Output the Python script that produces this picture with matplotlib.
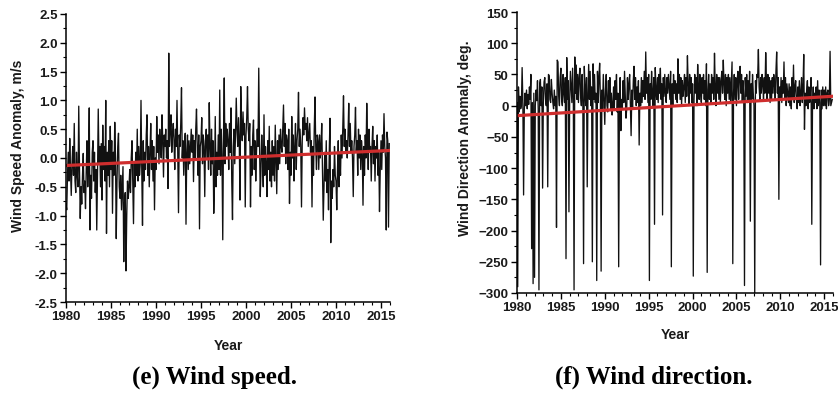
import numpy as np
import matplotlib
matplotlib.use("Agg")
import matplotlib.pyplot as plt
from matplotlib.ticker import MultipleLocator, FormatStrFormatter

plt.rcParams['font.family'] = ['Liberation Sans', 'DejaVu Sans']

start_year = 1980
end_year = 2016

# Monthly wind speed anomaly (m/s), one row per year 1980..2015
speed_rows = [
    [-0.8, -0.9, -0.3, 0.1, -0.4, 0.34, -0.2, -0.65, -0.1, 0.2, -0.3, 0.6],
    [-0.4, -0.6, 0.1, -0.3, -0.5, 0.9, -0.2, -1.05, -0.5, -0.8, -0.3, 0.08],
    [-0.6, -0.4, -0.88, -0.2, 0.3, -0.5, -0.1, 0.87, -1.25, -0.3, -0.7, 0.1],
    [0.3, -0.4, 0.1, -0.6, -0.2, -1.25, -0.3, 0.85, -0.1, 0.2, -0.5, 0.25],
    [-0.73, 0.57, -0.2, 0.2, -0.4, 1.0, -1.31, 0.1, -0.3, 0.3, -0.5, 0.55],
    [-0.2, 0.3, -0.96, 0.1, -0.3, 0.62, 0.0, -1.4, -0.4, 0.2, 0.43, -0.5],
    [-0.7, -0.3, -0.9, -0.5, -0.15, -1.8, -0.8, -0.6, -1.96, -1.0, -0.4, -0.7],
    [-0.5, -0.2, -0.6, 0.0, 0.3, -0.4, -1.14, -0.1, -0.5, 0.1, -0.3, 0.5],
    [-0.4, 0.2, -0.3, -0.1, 1.0, -0.2, -1.17, 0.3, -0.4, 0.1, -0.2, 0.4],
    [0.75, -0.3, 0.2, -0.5, 0.1, 0.6, -0.2, 0.3, -0.4, 0.2, -0.9, 0.0],
    [-0.2, 0.72, 0.1, 0.4, -0.1, 0.5, 0.2, 0.0, 0.75, 0.3, -0.33, 0.4],
    [0.2, 0.5, 0.0, 0.3, -0.53, 1.82, 0.2, 0.5, 0.75, 0.1, 0.4, 0.6],
    [0.3, -0.2, 0.5, 0.2, 1.0, 0.1, -0.95, 0.4, 0.2, 0.6, 1.22, 0.0],
    [0.3, -0.3, 0.2, 0.43, -1.15, 0.1, 0.4, -0.2, 0.3, -0.1, 0.2, 0.5],
    [0.1, 0.4, -0.41, 0.3, 0.0, 0.5, 0.85, 0.2, -0.3, 0.4, -1.23, 0.2],
    [0.3, 0.7, -0.1, 0.4, 0.2, -0.67, 0.3, 0.5, 0.0, 0.4, -0.2, 0.96],
    [0.2, -0.3, 0.5, -0.1, 0.3, -0.96, -0.4, 0.72, -0.5, 0.1, -0.3, 0.4],
    [-0.2, 1.18, -0.3, 0.5, 0.0, -1.42, 0.4, 1.39, -0.1, 0.6, 0.2, 0.5],
    [0.3, -0.2, 0.6, 0.1, 0.87, -0.4, -1.07, 0.2, 0.5, -0.1, 0.4, 1.04],
    [0.5, 0.2, 0.7, 0.3, -0.73, 1.24, 0.6, 0.3, 0.8, 0.4, 0.6, -0.85],
    [0.4, 0.7, 1.24, 0.5, 0.3, 0.6, -0.85, 0.2, -0.3, 0.4, 0.66, -0.2],
    [0.3, -0.4, 0.1, 0.5, 0.2, 1.56, 0.3, -0.67, -0.2, 0.4, 0.0, -0.5],
    [0.75, -0.3, 0.2, -0.1, -0.67, 0.3, -0.2, 0.55, -0.4, 0.1, -0.5, 0.3],
    [-0.3, 0.2, -0.4, 0.57, 0.0, -0.62, 0.3, -0.2, 0.4, -0.1, 0.5, 0.2],
    [0.1, 0.5, 0.92, 0.2, 0.6, -0.1, 0.4, 0.3, -0.2, 0.5, -0.79, 0.1],
    [-0.3, 0.72, 0.0, 0.4, -0.4, 0.2, 0.6, -0.2, 0.3, 0.5, 1.14, 0.2],
    [0.5, 0.2, -0.85, 0.3, 0.7, 0.4, 0.87, 0.5, 0.6, 0.3, 0.7, 0.2],
    [0.4, 0.6, 0.1, 0.3, -0.85, 0.2, -0.3, 0.5, 1.06, 0.2, -0.2, 0.4],
    [0.3, -0.2, 0.4, 0.0, 0.2, 0.6, -0.3, -1.08, -0.5, 0.1, -0.4, 0.3],
    [-0.6, -0.2, -0.9, 0.1, 0.69, -1.47, -0.4, -0.7, -0.2, -0.5, 0.2, -0.3],
    [-0.4, -0.9, -0.2, 0.3, -0.5, 0.1, -0.3, 0.4, 0.0, 0.5, 1.08, 0.2],
    [0.5, 0.1, 0.3, 0.0, 0.4, 0.95, 0.2, 0.6, 0.1, 0.3, 0.0, -0.67],
    [0.2, 0.4, 0.88, 0.1, 0.3, -0.3, 0.5, 0.0, 0.4, -0.2, 0.3, 0.1],
    [-0.82, 0.2, -0.3, 0.4, 0.0, 0.95, 0.3, -0.2, 0.5, 0.1, 0.2, -0.4],
    [0.2, 0.55, -0.1, 0.3, -0.4, 0.2, 0.0, 0.4, -0.3, 0.1, -0.93, -0.2],
    [0.3, -0.2, 0.4, 0.1, 0.77, 0.2, 0.0, -1.25, 0.45, 0.3, -1.2, 0.25],
]

# Monthly wind direction anomaly (deg), one row per year 1980..2015
direction_rows = [
    [5, -290, 30, -10, 15, -5, 0, 61, 8, -143, -5, 20],
    [0, 25, -5, 18, 2, 30, 10, 50, -229, 5, -285, 20],
    [-275, 0, 25, 8, 40, -5, -295, 35, 42, 0, 30, -132],
    [5, 38, 45, 10, 0, 35, -130, 50, 48, 10, 5, 42],
    [20, 5, -5, 25, 0, 15, -195, 73, 70, 15, 0, 45],
    [60, 10, 0, 50, 20, 5, 45, -245, 77, 10, 40, -170],
    [10, 55, 30, 5, 60, 15, -295, 78, 20, 65, 10, 50],
    [5, 45, 60, 15, 0, 50, 10, -253, 63, 25, 0, 45],
    [-130, 20, 66, 10, 55, 0, 30, -250, 67, 10, 50, 5],
    [20, -280, 55, 5, 45, 68, 10, -265, 25, -5, 50, 10],
    [-30, 25, 50, 0, -10, 40, 5, 45, -5, 20, -15, 0],
    [30, -5, 40, 10, 50, -10, 20, -258, 0, 45, -40, 10],
    [-5, 40, 5, 55, 15, -20, -5, 45, 10, 35, 50, 0],
    [-48, 25, -5, 40, 63, 10, 45, 0, 30, 5, 40, -63],
    [20, 0, 45, 5, 40, 15, 55, 10, 86, 20, 45, 5],
    [50, -280, 35, 10, 55, 20, 0, 45, -190, 61, 25, 10],
    [45, 5, 50, 20, 60, 10, 35, -175, 45, 15, 50, 20],
    [5, 45, 20, 50, 30, 10, 55, -258, 35, 0, 50, 20],
    [40, 10, 35, 5, 75, 20, 50, 10, 45, 0, 40, 15],
    [30, 50, 5, 45, 15, 80, 35, 0, 50, 20, 45, 5],
    [35, -273, 10, 50, 20, 45, 0, 66, 30, 10, 50, 20],
    [5, 45, 20, 50, 10, 40, 0, 67, -267, 25, 50, 10],
    [35, 5, 50, 20, 45, 10, 84, 30, 0, 50, 20, 45],
    [10, 45, 5, 40, 55, 20, 73, 35, 10, 50, 0, 45],
    [20, 50, 10, 45, 5, 40, 70, -253, 20, 50, 10, 45],
    [0, 40, 55, 10, 45, 63, 20, 50, 5, 40, 15, -288],
    [45, 15, 50, 5, 40, 10, 55, -185, 35, 10, 50, 20],
    [0, -300, 40, 20, 50, 45, 90, 30, 10, 45, 20, 50],
    [35, 10, 45, 20, 85, 40, 10, 50, 20, 45, 5, 40],
    [10, 45, 20, 50, 35, 10, 55, 86, 20, 45, -150, 30],
    [10, 45, 5, 40, 20, 70, 10, 45, 0, 35, 20, 5],
    [35, 0, 30, -5, 45, 10, 65, 5, 30, 40, 10, -5],
    [30, 5, 40, 0, 20, 45, 5, 30, 82, -38, 20, 0],
    [25, 40, -5, 30, 5, 20, 45, -190, 5, 30, -5, 20],
    [5, 30, -5, 40, 0, 25, 5, -255, 25, -5, 30, 0],
    [25, 0, 30, -5, 20, 25, 0, 10, 87, 0, 5, 10],
]

# Linear trend end values (start, end)
speed_trend = [-0.13, 0.13]
direction_trend = [-16, 15]

speed_ticks = [-2.5, -2.0, -1.5, -1.0, -0.5, 0.0, 0.5, 1.0, 1.5, 2.0, 2.5]
direction_ticks = [-300, -250, -200, -150, -100, -50, 0, 50, 100, 150]
year_ticks = [1980, 1985, 1990, 1995, 2000, 2005, 2010, 2015]

speed = np.array(speed_rows).ravel()
direction = np.array(direction_rows).ravel()
t = start_year + np.arange(len(speed)) / 12.0
trend_x = [start_year, t[-1]]

W, H = 838, 406
fig = plt.figure(figsize=(W / 100, H / 100), dpi=100)

def px_axes(x0, x1, ytop, ybot):
    return fig.add_axes([x0 / W, 1 - ybot / H, (x1 - x0) / W, (ybot - ytop) / H])

ax1 = px_axes(66, 390, 15, 303)
ax2 = px_axes(517, 833, 13, 294)

red = '#cf2e2e'
txt = '#1a1a1a'
for ax, y, tr, ticks, minor, lab, lc, xl in [
    (ax1, speed, speed_trend, speed_ticks, 0.25, 'Wind Speed Anomaly, m/s', (-0.128, 0.545), -0.125),
    (ax2, direction, direction_trend, direction_ticks, 25, 'Wind Direction Anomaly, deg.', (-0.142, 0.555), -0.12),
]:
    ax.plot(t, y, color='#111111', lw=0.95)
    ax.plot(trend_x, tr, color=red, lw=2.3)
    ax.set_xlim(start_year, end_year)
    ax.set_ylim(ticks[0], ticks[-1])
    ax.set_yticks(ticks)
    ax.set_xticks(year_ticks)
    ax.yaxis.set_minor_locator(MultipleLocator(minor))
    ax.xaxis.set_minor_locator(MultipleLocator(1))
    for s in ['top', 'right']:
        ax.spines[s].set_visible(False)
    for s in ['left', 'bottom']:
        ax.spines[s].set_linewidth(1.1)
    ax.tick_params(which='major', direction='out', length=4, width=1, labelsize=9.5, pad=2)
    ax.tick_params(which='minor', direction='out', length=2, width=0.8)
    for lbl in ax.get_xticklabels() + ax.get_yticklabels():
        lbl.set_fontweight('bold')
        lbl.set_color(txt)
    ax.set_ylabel(lab, fontsize=10, fontweight='bold', color=txt)
    ax.yaxis.set_label_coords(*lc)
    ax.set_xlabel('Year', fontsize=10, fontweight='bold', color=txt)
    ax.xaxis.set_label_coords(0.5, xl)

ax1.yaxis.set_major_formatter(FormatStrFormatter('%.1f'))

fig.text(214 / W, 1 - 377 / H, '(e) Wind speed.', ha='center', va='center',
         fontsize=18, fontweight='bold', family='Liberation Serif')
fig.text(654 / W, 1 - 377 / H, '(f) Wind direction.', ha='center', va='center',
         fontsize=18, fontweight='bold', family='Liberation Serif')

fig.savefig('out.png', dpi=100)
